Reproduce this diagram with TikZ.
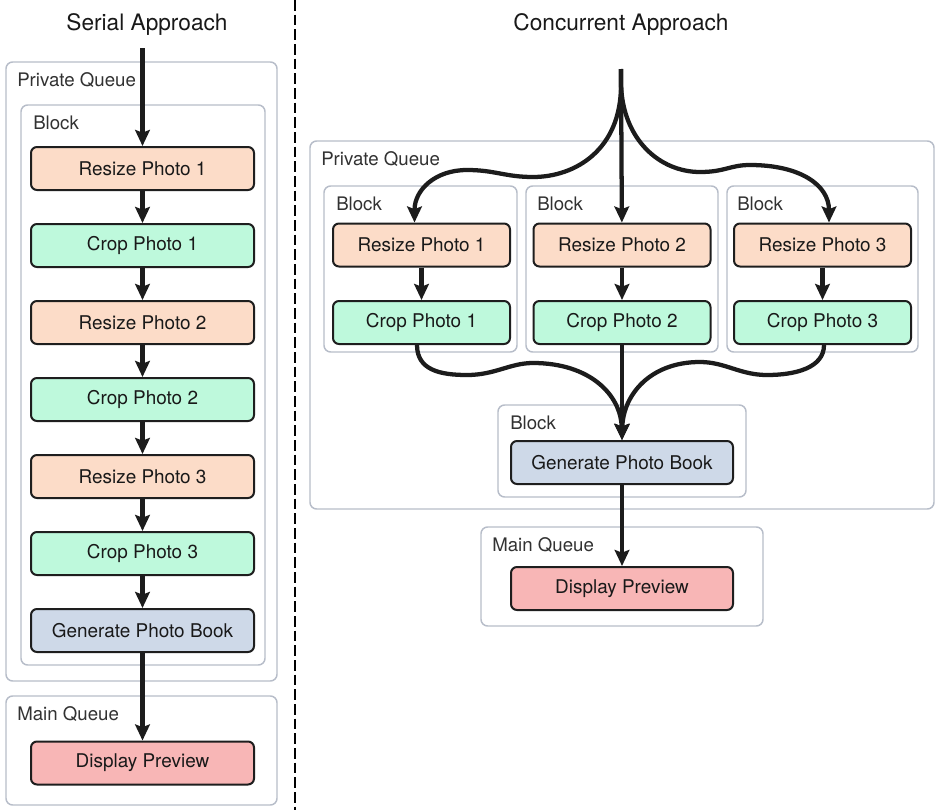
\documentclass[tikz,border=0pt]{standalone}
\usepackage{fontspec}
\setmainfont{TeX Gyre Heros}
\usetikzlibrary{arrows.meta,calc}
\definecolor{resizec}{RGB}{252,220,200}
\definecolor{cropc}{RGB}{190,249,220}
\definecolor{genc}{RGB}{206,217,232}
\definecolor{dispc}{RGB}{248,182,182}
\definecolor{nodeline}{RGB}{30,30,30}
\definecolor{contline}{RGB}{183,189,201}
\definecolor{textc}{RGB}{25,25,25}
\definecolor{labelc}{RGB}{50,50,50}
\definecolor{arrc}{RGB}{28,28,28}
\begin{document}
\begin{tikzpicture}[x=0.75pt,y=-0.75pt,
  proc/.style={draw=nodeline, line width=1.5pt, rounded corners=4.5pt,
    font=\fontsize{14.2}{16}\selectfont, text=textc, inner sep=0pt},
  lproc/.style={proc, minimum width=167.25pt, minimum height=32.25pt},
  rproc/.style={proc, minimum width=132.75pt, minimum height=32.25pt},
  wproc/.style={proc, minimum width=166.5pt, minimum height=32.25pt},
  cont/.style={draw=contline, line width=1.1pt, rounded corners=5pt},
  clabel/.style={anchor=base west, font=\fontsize{14}{16}\selectfont, text=labelc, inner sep=0pt},
  ttl/.style={anchor=base, font=\fontsize{17}{20}\selectfont, text=textc, inner sep=0pt},
  arr/.style={draw=arrc, line width=3.2pt, -{Stealth[length=12pt,width=11pt,inset=2pt]}},
  sep/.style={draw=black, line width=1.5pt, dash pattern=on 8pt off 3pt}
]
\useasboundingbox (0,0) rectangle (942,810);
\fill[white] (0,0) rectangle (942,810);

% separator
\draw[sep] (294.5,0) -- (294.5,810);

% titles
\node[ttl] (t1) at (147,30) {Serial Approach};
\node[ttl] (t2) at (621,30) {Concurrent Approach};

% ---------- Serial side ----------
\draw[cont] (6,62) rectangle (277,681);
\node[clabel] (lpq) at (17,86) {Private Queue};
\draw[cont] (21,105) rectangle (265,665);
\node[clabel] (lbl) at (33,129.5) {Block};
\draw[cont] (6,696) rectangle (277,805);
\node[clabel] (lmq) at (17,720) {Main Queue};

\node[lproc, fill=resizec] (s1) at (142.5,168.5) {Resize Photo 1};
\node[lproc, fill=cropc]   (s2) at (142.5,245.5) {Crop Photo 1};
\node[lproc, fill=resizec] (s3) at (142.5,322.5) {Resize Photo 2};
\node[lproc, fill=cropc]   (s4) at (142.5,399.5) {Crop Photo 2};
\node[lproc, fill=resizec] (s5) at (142.5,476.5) {Resize Photo 3};
\node[lproc, fill=cropc]   (s6) at (142.5,553.5) {Crop Photo 3};
\node[lproc, fill=genc]    (s7) at (142.5,630.5) {Generate Photo Book};
\node[lproc, fill=dispc]   (s8) at (142.5,763)   {Display Preview};

\coordinate (s0) at (142.5,48);
\draw[arr] (s0) -- (s1);
\draw[arr] (s1) -- (s2);
\draw[arr] (s2) -- (s3);
\draw[arr] (s3) -- (s4);
\draw[arr] (s4) -- (s5);
\draw[arr] (s5) -- (s6);
\draw[arr] (s6) -- (s7);
\draw[arr] (s7) -- (s8);

% ---------- Concurrent side ----------
\draw[cont] (310,141) rectangle (934,509);
\node[clabel] (rpq) at (321,165) {Private Queue};
\draw[cont] (324,186) rectangle (517,352);
\node[clabel] (rb1) at (336,210) {Block};
\draw[cont] (526,186) rectangle (718,352);
\node[clabel] (rb2) at (537,210) {Block};
\draw[cont] (727,186) rectangle (918,352);
\node[clabel] (rb3) at (737,210) {Block};
\draw[cont] (498,405) rectangle (746,497);
\node[clabel] (rb4) at (510,429) {Block};
\draw[cont] (481,527) rectangle (763,626);
\node[clabel] (rmq) at (492,551) {Main Queue};

\node[rproc, fill=resizec] (r1) at (421.5,245) {Resize Photo 1};
\node[rproc, fill=resizec] (r2) at (622,245)   {Resize Photo 2};
\node[rproc, fill=resizec] (r3) at (822.5,245) {Resize Photo 3};
\node[rproc, fill=cropc]   (c1) at (421.5,322.5) {Crop Photo 1};
\node[rproc, fill=cropc]   (c2) at (622,322.5)   {Crop Photo 2};
\node[rproc, fill=cropc]   (c3) at (822.5,322.5) {Crop Photo 3};
\node[wproc, fill=genc]    (g)  at (622,462.5) {Generate Photo Book};
\node[wproc, fill=dispc]   (d)  at (622,588.5) {Display Preview};

\coordinate (c0) at (621,69);
% fan out
\draw[arr] (c0) -- (r2);
\draw[arr] (c0) -- (621,85) .. controls (621,150) and (575,177) .. (533,177)
  .. controls (505,177) and (495,170) .. (467,170)
  .. controls (435,170) and (414.5,190) .. ($(r1.north)+(-7,0)$);
\draw[arr] (c0) -- (621,85) .. controls (623,140) and (660,172) .. (700,172)
  .. controls (725,172) and (730,165) .. (750,165)
  .. controls (800,165) and (829,185) .. ($(r3.north)+(6.5,0)$);
% inside blocks
\draw[arr] (r1) -- (c1);
\draw[arr] (r2) -- (c2);
\draw[arr] (r3) -- (c3);
% fan in
\draw[arr] (c2) -- (g);
\draw[arr] ($(c1.south)+(-4.5,0)$) .. controls (417,370) and (440,375) .. (467,375)
  .. controls (495,375) and (510,363) .. (533,363)
  .. controls (590,363) and (621,395) .. (g.north);
\draw[arr] ($(c3.south)+(1.5,0)$) .. controls (824,368) and (795,375) .. (767,375)
  .. controls (740,375) and (725,362) .. (700,362)
  .. controls (650,362) and (623,395) .. (g.north);
\draw[arr] (g) -- (d);
\end{tikzpicture}
\end{document}
